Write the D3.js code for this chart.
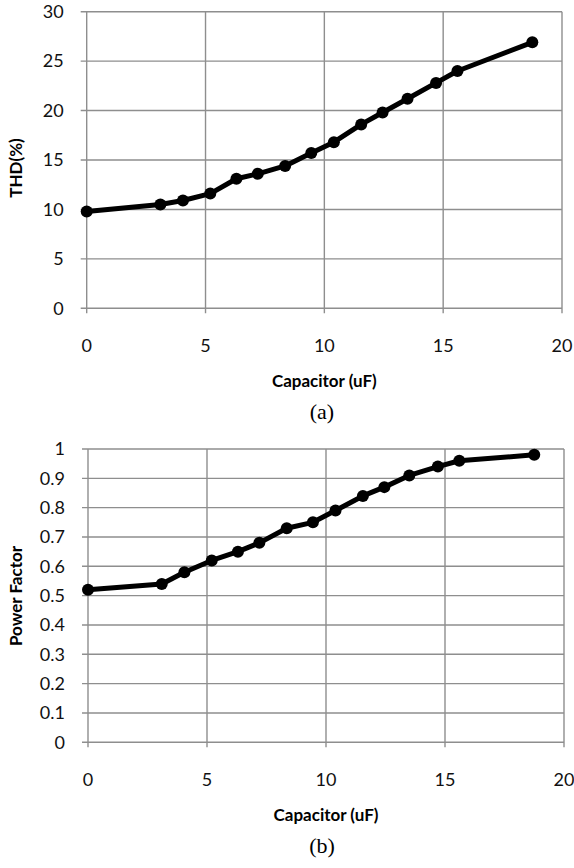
<!DOCTYPE html>
<html><head><meta charset="utf-8">
<script src="https://cdn.jsdelivr.net/npm/d3@7"></script>
<style>
html,body{margin:0;padding:0;background:#fff;}
svg{display:block;}
</style></head>
<body>
<svg id="chart" width="574" height="868"></svg>
<script>
// ---- data ----
const capacitor = [0, 3.1, 4.05, 5.2, 6.3, 7.2, 8.35, 9.45, 10.4, 11.55, 12.45, 13.5, 14.7, 15.6, 18.75];
const thd = [9.8, 10.5, 10.9, 11.6, 13.1, 13.6, 14.4, 15.7, 16.8, 18.6, 19.8, 21.2, 22.8, 24.0, 26.9];
const powerFactor = [0.52, 0.54, 0.58, 0.62, 0.65, 0.68, 0.73, 0.75, 0.79, 0.84, 0.87, 0.91, 0.94, 0.96, 0.98];
const xTicks = [0, 5, 10, 15, 20];
const thdTicks = [0, 5, 10, 15, 20, 25, 30];
const pfTicks = [0, 0.1, 0.2, 0.3, 0.4, 0.5, 0.6, 0.7, 0.8, 0.9, 1];
const xTitle = "Capacitor (uF)";
const thdTitle = "THD(%)";
const pfTitle = "Power Factor";
const captions = ["(a)", "(b)"];

const svg = d3.select("#chart");
const GRID = "#8e8e8e";
const FONT = "Lato, 'Open Sans', sans-serif";

function drawChart(cfg) {
  const x = d3.scaleLinear().domain([0, 20]).range([cfg.left, cfg.right]);
  const y = d3.scaleLinear().domain(cfg.yDomain).range([cfg.bottom, cfg.top]);
  const g = svg.append("g");

  g.selectAll(".vg").data(xTicks).enter().append("line")
    .attr("x1", d => x(d)).attr("x2", d => x(d))
    .attr("y1", cfg.top).attr("y2", cfg.bottom + 5)
    .attr("stroke", GRID).attr("stroke-width", 1.4);
  g.selectAll(".hg").data(cfg.yTicks).enter().append("line")
    .attr("x1", cfg.left - 6).attr("x2", cfg.right)
    .attr("y1", d => y(d)).attr("y2", d => y(d))
    .attr("stroke", GRID).attr("stroke-width", 1.4);

  g.selectAll(".yl").data(cfg.yTicks).enter().append("text")
    .attr("x", cfg.left - 23).attr("y", d => y(d))
    .attr("dy", "0.35em").attr("text-anchor", "end")
    .attr("font-family", FONT).attr("font-size", 18).attr("fill", "#111")
    .text(d => d);
  g.selectAll(".xl").data(xTicks).enter().append("text")
    .attr("x", d => x(d)).attr("y", cfg.bottom + 37)
    .attr("dy", "0.35em").attr("text-anchor", "middle")
    .attr("font-family", FONT).attr("font-size", 18).attr("fill", "#111")
    .text(d => d);

  g.append("text")
    .attr("x", (cfg.left + cfg.right) / 2).attr("y", cfg.bottom + 73)
    .attr("dy", "0.35em").attr("text-anchor", "middle")
    .attr("font-family", FONT).attr("font-weight", "bold").attr("font-size", 17).attr("fill", "#000")
    .text(xTitle);
  g.append("text")
    .attr("transform", `translate(16,${cfg.yTitleY}) rotate(-90)`)
    .attr("dy", "0.35em").attr("text-anchor", "middle")
    .attr("font-family", FONT).attr("font-weight", "bold").attr("font-size", 17).attr("fill", "#000")
    .text(cfg.yTitle);

  g.append("text")
    .attr("x", 322).attr("y", cfg.bottom + 103)
    .attr("dy", "0.35em").attr("text-anchor", "middle")
    .attr("font-family", "'Liberation Serif', 'Times New Roman', serif").attr("font-size", 22).attr("fill", "#000")
    .text(cfg.caption);

  const pts = capacitor.map((c, i) => [c, cfg.values[i]]);
  g.append("path").datum(pts)
    .attr("d", d3.line().x(d => x(d[0])).y(d => y(d[1])))
    .attr("fill", "none").attr("stroke", "#000").attr("stroke-width", 5)
    .attr("stroke-linejoin", "round");
  g.selectAll(".pt").data(pts).enter().append("circle")
    .attr("cx", d => x(d[0])).attr("cy", d => y(d[1])).attr("r", 6)
    .attr("fill", "#000");
}

drawChart({left: 86.7, right: 562, top: 11.7, bottom: 308.3, yDomain: [0, 30],
  yTicks: thdTicks, values: thd, yTitle: thdTitle, yTitleY: 168, caption: captions[0]});
drawChart({left: 88, right: 564, top: 449, bottom: 742.3, yDomain: [0, 1],
  yTicks: pfTicks, values: powerFactor, yTitle: pfTitle, yTitleY: 596, caption: captions[1]});
</script>
</body></html>
